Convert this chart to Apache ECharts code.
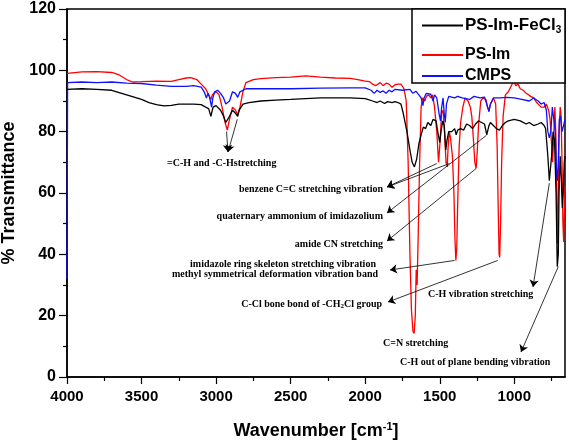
<!DOCTYPE html>
<html><head><meta charset="utf-8">
<script src="https://cdn.jsdelivr.net/npm/echarts@6/dist/echarts.min.js"></script>
<style>html,body{margin:0;padding:0;background:#fff}#c{width:569px;height:441px}</style>
</head><body><div id="c"></div>
<script>
// ---- Data (wavenumber [cm-1], % transmittance) ----
const xTickLabels = [1000, 1500, 2000, 2500, 3000, 3500, 4000];
const xMinorTicks = [750, 1250, 1750, 2250, 2750, 3250, 3750];
const yTickLabels = [0, 20, 40, 60, 80, 100, 120];
const seriesNames = ['PS-Im-FeCl3', 'PS-Im', 'CMPS'];

const blackFeCl3 = [[4000,93.8],[3900,94],[3800,93.8],[3700,93.5],[3600,92],[3500,90.5],[3450,89.5],[3400,88.8],[3350,88.4],[3300,88.6],[3250,89],[3200,89],[3150,89],[3100,88.8],[3070,88],[3050,87.5],[3035,85],[3028,86.5],[3020,88],[3000,88.5],[2970,87],[2950,85],[2935,83],[2925,82.5],[2910,85],[2890,87],[2870,86],[2855,85],[2845,87],[2820,89],[2780,89.5],[2700,90],[2600,90.3],[2500,90.5],[2400,90.8],[2300,91],[2200,91],[2100,91],[2000,90.8],[1950,90],[1920,89.5],[1900,90],[1870,89.2],[1850,89.8],[1820,89.5],[1800,89.8],[1780,89.5],[1760,89],[1745,86],[1720,80],[1700,74],[1685,70],[1670,68.5],[1655,71],[1640,76],[1625,79],[1610,81.5],[1595,81],[1580,83],[1560,82],[1545,84],[1525,83.5],[1510,79],[1500,76.5],[1492,80],[1480,83.5],[1470,82],[1460,74],[1452,77],[1440,80],[1420,80],[1400,81],[1390,79],[1380,80.5],[1360,81],[1340,80.5],[1320,82.5],[1300,82],[1280,81],[1260,82.5],[1240,83.5],[1220,83],[1200,82.5],[1185,79],[1170,82],[1160,83],[1140,82],[1120,81],[1100,80.5],[1080,82],[1060,83],[1040,83.5],[1000,84],[960,83.5],[920,82.5],[900,83],[870,82],[840,82.5],[820,83],[800,82],[790,81],[775,72],[765,64],[758,64.5],[750,72],[740,80],[730,77],[720,60],[712,36],[705,40],[700,60],[692,72],[685,65],[678,55],[672,60],[665,70],[660,72]];

const redPSIm = [[4000,99],[3900,99.5],[3800,99.6],[3700,99.3],[3650,98.5],[3600,97],[3560,96.2],[3500,96.3],[3400,96.5],[3300,96.4],[3250,97],[3200,97.5],[3170,97.6],[3130,97],[3100,95.5],[3070,94],[3050,92],[3035,90.5],[3025,92],[3000,93],[2980,92],[2960,88],[2940,83],[2925,80.5],[2910,84],[2890,88],[2870,87],[2855,85.5],[2840,88],[2820,93],[2800,96],[2750,97],[2700,97.3],[2600,97.6],[2500,97.8],[2400,98.2],[2300,97.8],[2200,97.5],[2100,97.4],[2050,97],[2000,96.5],[1970,96.3],[1950,95.5],[1930,95],[1900,96],[1880,95],[1860,95.8],[1840,95.5],[1820,94.5],[1800,95.3],[1780,95.5],[1760,95.5],[1740,94],[1725,90],[1712,70],[1700,40],[1690,22],[1680,15],[1672,14.2],[1664,20],[1658,35],[1652,30],[1645,45],[1635,70],[1625,88],[1615,91],[1600,90],[1590,91.5],[1575,92],[1560,91],[1548,92],[1535,88],[1520,80],[1508,70],[1502,69.5],[1496,78],[1488,86],[1478,87],[1468,80],[1458,70],[1450,68.5],[1444,75],[1436,80],[1428,78],[1415,72],[1405,60],[1398,45],[1392,38],[1386,42],[1378,60],[1370,75],[1360,83],[1345,88],[1330,91],[1310,90],[1295,88],[1285,85],[1275,78],[1265,70],[1256,68],[1248,74],[1240,82],[1225,90],[1210,91],[1190,90.5],[1180,88],[1170,87],[1160,89],[1140,91],[1125,89],[1115,75],[1108,55],[1102,40],[1098,39],[1092,50],[1085,70],[1075,85],[1060,92],[1040,93],[1020,95],[1005,96.5],[990,95],[975,95.5],[960,94],[940,93.5],[920,92.5],[910,93],[890,91.5],[870,91],[850,89.5],[820,88],[800,88],[785,89],[770,87],[760,84],[750,76],[743,70],[736,78],[728,88],[722,80],[716,60],[711,43.5],[706,55],[700,80],[692,88],[686,85],[680,70],[674,50],[669,44],[664,55],[660,62]];

const blueCMPS = [[4000,32],[3996,96],[3900,96.2],[3800,96],[3700,96.2],[3600,95.8],[3500,95.7],[3400,95.2],[3300,94.8],[3200,94.8],[3150,95],[3100,94.5],[3080,93],[3065,91],[3055,92.5],[3045,91.5],[3030,88],[3022,91],[3010,93],[2990,93.5],[2970,92.5],[2950,91],[2935,89],[2925,88.5],[2910,90],[2890,93],[2870,92.5],[2855,91.2],[2840,93],[2800,94],[2700,94],[2500,94],[2300,94.2],[2100,94.3],[2000,94.3],[1960,93.5],[1940,92.5],[1920,93.5],[1900,92.8],[1880,93.3],[1860,92.5],[1840,93.5],[1820,93],[1800,93.8],[1750,93.5],[1700,93.8],[1680,92.5],[1660,93.2],[1640,92],[1625,91],[1613,88.5],[1605,91],[1590,92.5],[1560,92.2],[1545,90],[1535,92],[1520,91],[1505,86],[1495,83.5],[1487,88],[1478,91],[1470,86],[1463,83],[1455,89],[1440,91.5],[1400,91],[1380,91.5],[1350,91],[1300,90.5],[1270,91.5],[1230,91],[1200,91.3],[1185,89],[1170,86.5],[1160,89],[1140,91],[1100,91],[1050,91.2],[1000,91],[950,90.5],[900,90],[870,91],[840,90],[820,89],[800,89.5],[785,87],[775,80],[765,78],[755,80],[745,88],[735,88],[725,80],[716,66],[711,64],[705,70],[698,84],[690,85],[680,80],[670,82],[660,84]];

// annotation arrows: [start (data), end (pixel)]
const arrows = [
  [[2930,80],[228,152]],
  [[2858,84],[228,152]],
  [[1520,69.6],[387,187]],
  [[1435,69.6],[387,187]],
  [[1187,78.8],[387,213]],
  [[1256,68],[387,241]],
  [[1401,38],[390,270]],
  [[1111,38],[388,302]],
  [[765,63.2],[533,287]],
  [[705,36],[521,352]]
];

const chart = echarts.init(document.getElementById('c'), null, {renderer:'canvas'});
const serif = '"Liberation Serif","Times New Roman",serif';
const sans = '"Liberation Sans",Arial,sans-serif';
function note(text, x, y, align) {
  return {type:'text', z:20, style:{text:text, x:x, y:y, align:align, verticalAlign:'middle',
    font:'bold 10px ' + serif, fill:'#000'}};
}
const legendRich = {a:{fontFamily:sans, fontWeight:'bold', fontSize:16, color:'#000'},
  b:{fontFamily:sans, fontWeight:'bold', fontSize:17, color:'#000'},
  s:{fontFamily:sans, fontWeight:'bold', fontSize:10, color:'#000', verticalAlign:'bottom', padding:[10,0,0,0]}};
function legendFmt(n){ return n === 'PS-Im-FeCl3' ? '{b|PS-Im-FeCl}{s|3}' : '{a|' + n + '}'; }
const legendBase = {orient:'vertical', left:417, itemWidth:41, itemHeight:2, icon:'rect', itemGap:0,
  formatter: legendFmt, textStyle:{rich:legendRich, padding:[0,0,0,-3]}, z:60, selectedMode:false};

chart.setOption({
  animation:false,
  backgroundColor:'#fff',
  grid:{left:67, right:4, top:9, bottom:64, show:true, borderColor:'#000', borderWidth:1.5,
    backgroundColor:'transparent', containLabel:false, outerBoundsMode:'none'},
  legend:[
    Object.assign({}, legendBase, {data:[seriesNames[0]], top:12}),
    Object.assign({}, legendBase, {data:[seriesNames[1]], top:42}),
    Object.assign({}, legendBase, {data:[seriesNames[2]], top:63})
  ],
  xAxis:[{
    type:'value', inverse:true, min:660, max:4000,
    axisLine:{show:true, lineStyle:{color:'#000', width:1.5}},
    axisTick:{show:true, length:7, customValues:xTickLabels, lineStyle:{color:'#000', width:1.2}},
    axisLabel:{customValues:xTickLabels, formatter:v => String(v), color:'#000', fontFamily:sans, fontWeight:'bold', fontSize:15, margin:12},
    splitLine:{show:false},
    name:'{a|Wavenumber [cm}{s|-1}{a|]}', nameLocation:'middle', nameGap:44,
    nameTextStyle:{rich:{a:{fontFamily:sans, fontWeight:'bold', fontSize:18, color:'#000'},
      s:{fontFamily:sans, fontWeight:'bold', fontSize:11, color:'#000', verticalAlign:'top', padding:[0,0,10,0]}}}
  },{
    type:'value', inverse:true, min:660, max:4000, position:'bottom',
    axisLine:{show:false},
    axisTick:{show:true, length:4, customValues:xMinorTicks, lineStyle:{color:'#000', width:1.2}},
    axisLabel:{show:false}, splitLine:{show:false}
  }],
  yAxis:{
    type:'value', min:0, max:120, interval:20,
    axisLine:{show:true, lineStyle:{color:'#000', width:1.5}},
    axisTick:{show:true, length:8, lineStyle:{color:'#000', width:1.2}},
    minorTick:{show:true, splitNumber:2, length:4, lineStyle:{color:'#000', width:1.2}},
    axisLabel:{color:'#000', fontFamily:sans, fontWeight:'bold', fontSize:16, margin:11},
    splitLine:{show:false},
    name:'% Transmittance', nameLocation:'middle', nameGap:45,
    nameTextStyle:{color:'#000', fontFamily:sans, fontWeight:'bold', fontSize:18}
  },
  series:[
    {name:seriesNames[1], type:'line', data:redPSIm, showSymbol:false, symbol:'none', z:2,
      lineStyle:{color:'#ff0000', width:1.3}, itemStyle:{color:'#ff0000'}},
    {name:seriesNames[2], type:'line', data:blueCMPS, showSymbol:false, symbol:'none', z:3,
      lineStyle:{color:'#1010ff', width:1.3}, itemStyle:{color:'#1010ff'}},
    {name:seriesNames[0], type:'line', data:blackFeCl3, showSymbol:false, symbol:'none', z:4,
      lineStyle:{color:'#000', width:1.3}, itemStyle:{color:'#000'},
      markLine:{silent:true, symbol:['none','arrow'], symbolSize:7, animation:false,
        label:{show:false}, lineStyle:{color:'#000', width:0.8, type:'solid'},
        data: arrows.map(a => [{coord:a[0]}, {x:a[1][0], y:a[1][1]}])}}
  ],
  graphic:[
    {type:'rect', z:50, shape:{x:412, y:9, width:153, height:74}, style:{fill:'#fff', stroke:'#000', lineWidth:1.5}},
    note('=C-H and -C-Hstretching', 167, 163, 'left'),
    note('benzene C=C stretching vibration', 383, 189, 'right'),
    note('quaternary ammonium of imidazolium', 383, 216, 'right'),
    note('amide CN stretching', 383, 244, 'right'),
    note('imidazole ring skeleton stretching vibration', 283, 264, 'center'),
    note('methyl symmetrical deformation vibration band', 275, 274, 'center'),
    {type:'text', z:20, style:{text:'{t|C-Cl bone bond of -CH}{s|2}{t|Cl group}', x:382, y:304, align:'right', verticalAlign:'middle',
      rich:{t:{font:'bold 10px ' + serif, fill:'#000'}, s:{font:'bold 7px ' + serif, fill:'#000', verticalAlign:'bottom', padding:[5,0,0,0]}}}},
    note('C=N stretching', 383, 343, 'left'),
    note('C-H vibration stretching', 428, 294, 'left'),
    note('C-H out of plane bending vibration', 400, 362, 'left')
  ]
});
</script></body></html>
